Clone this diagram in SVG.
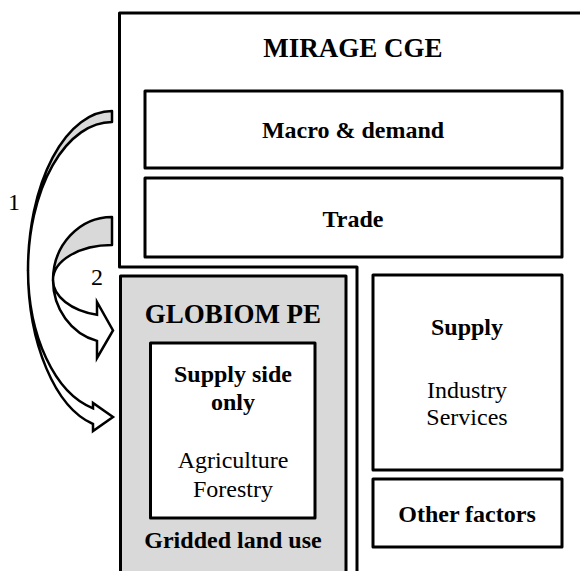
<svg xmlns="http://www.w3.org/2000/svg" width="580" height="571" viewBox="0 0 580 571">
<style>
.box{fill:#fff;stroke:#000;stroke-width:3;stroke-linejoin:round}
.gbox{fill:#d9d9d9;stroke:#000;stroke-width:3;stroke-linejoin:round}
.line{fill:none;stroke:#000;stroke-width:3;stroke-linejoin:round}
.back{fill:#d9d9d9;stroke:#000;stroke-width:2.5;stroke-linejoin:round}
.front{fill:#fff;stroke:#000;stroke-width:2.5;stroke-linejoin:miter}
.t{font-size:27px;font-weight:bold}
.b{font-size:24px;font-weight:bold}
.r{font-size:24px}
</style>
<rect width="580" height="571" fill="#fff"/>
<g font-family="'Liberation Serif', 'Times New Roman', serif" text-anchor="middle" fill="#000">
<g id="mirage">
<path class="line" d="M582,13 H119.5 V267 H357 V575"/>
<text class="t" x="353" y="57">MIRAGE CGE</text>
</g>
<g id="macro">
<rect class="box" x="145" y="91" width="417" height="77"/>
<text class="b" x="353" y="138">Macro &amp; demand</text>
</g>
<g id="trade">
<rect class="box" x="145" y="178" width="417" height="79"/>
<text class="b" x="353" y="227">Trade</text>
</g>
<g id="globiom">
<rect class="gbox" x="120.5" y="276" width="225.5" height="310"/>
<text class="t" x="233" y="323">GLOBIOM PE</text>
<text class="b" x="233" y="548">Gridded land use</text>
</g>
<g id="supplyside">
<rect class="box" x="150.5" y="343" width="164.5" height="175"/>
<text class="b" x="233" y="382">Supply side</text>
<text class="b" x="233" y="410">only</text>
<text class="r" x="233" y="468">Agriculture</text>
<text class="r" x="233" y="497">Forestry</text>
</g>
<g id="supply">
<rect class="box" x="373" y="275" width="189" height="195"/>
<text class="b" x="467" y="335">Supply</text>
<text class="r" x="467" y="398">Industry</text>
<text class="r" x="467" y="425">Services</text>
</g>
<g id="otherfactors">
<rect class="box" x="373" y="479" width="189" height="68"/>
<text class="b" x="467" y="522">Other factors</text>
</g>
<g id="connectors">
<g id="arrow1">
<path class="back" d="M112,111 A84,159 0 0 0 28,270 A84,148 0 0 1 112,122 Z"/>
<path class="front" d="M28,270 A84,159 0 0 0 93,424 L93,431 L113,417 L93,403 L93,408.3 A84,142 0 0 1 28,270 Z"/>
</g>
<g id="arrow2">
<path class="back" d="M112,217 A59,63 0 0 0 53,280 A59,35 0 0 1 112,245 Z"/>
<path class="front" d="M53,280 A59,63 0 0 0 97,340.9 L97,358 L113,330.5 L97,302 L97,314.8 A59,36 0 0 1 53,280 Z"/>
</g>
<text class="r" x="14" y="210">1</text>
<text class="r" x="97" y="285">2</text>
</g>
</g>
</svg>
